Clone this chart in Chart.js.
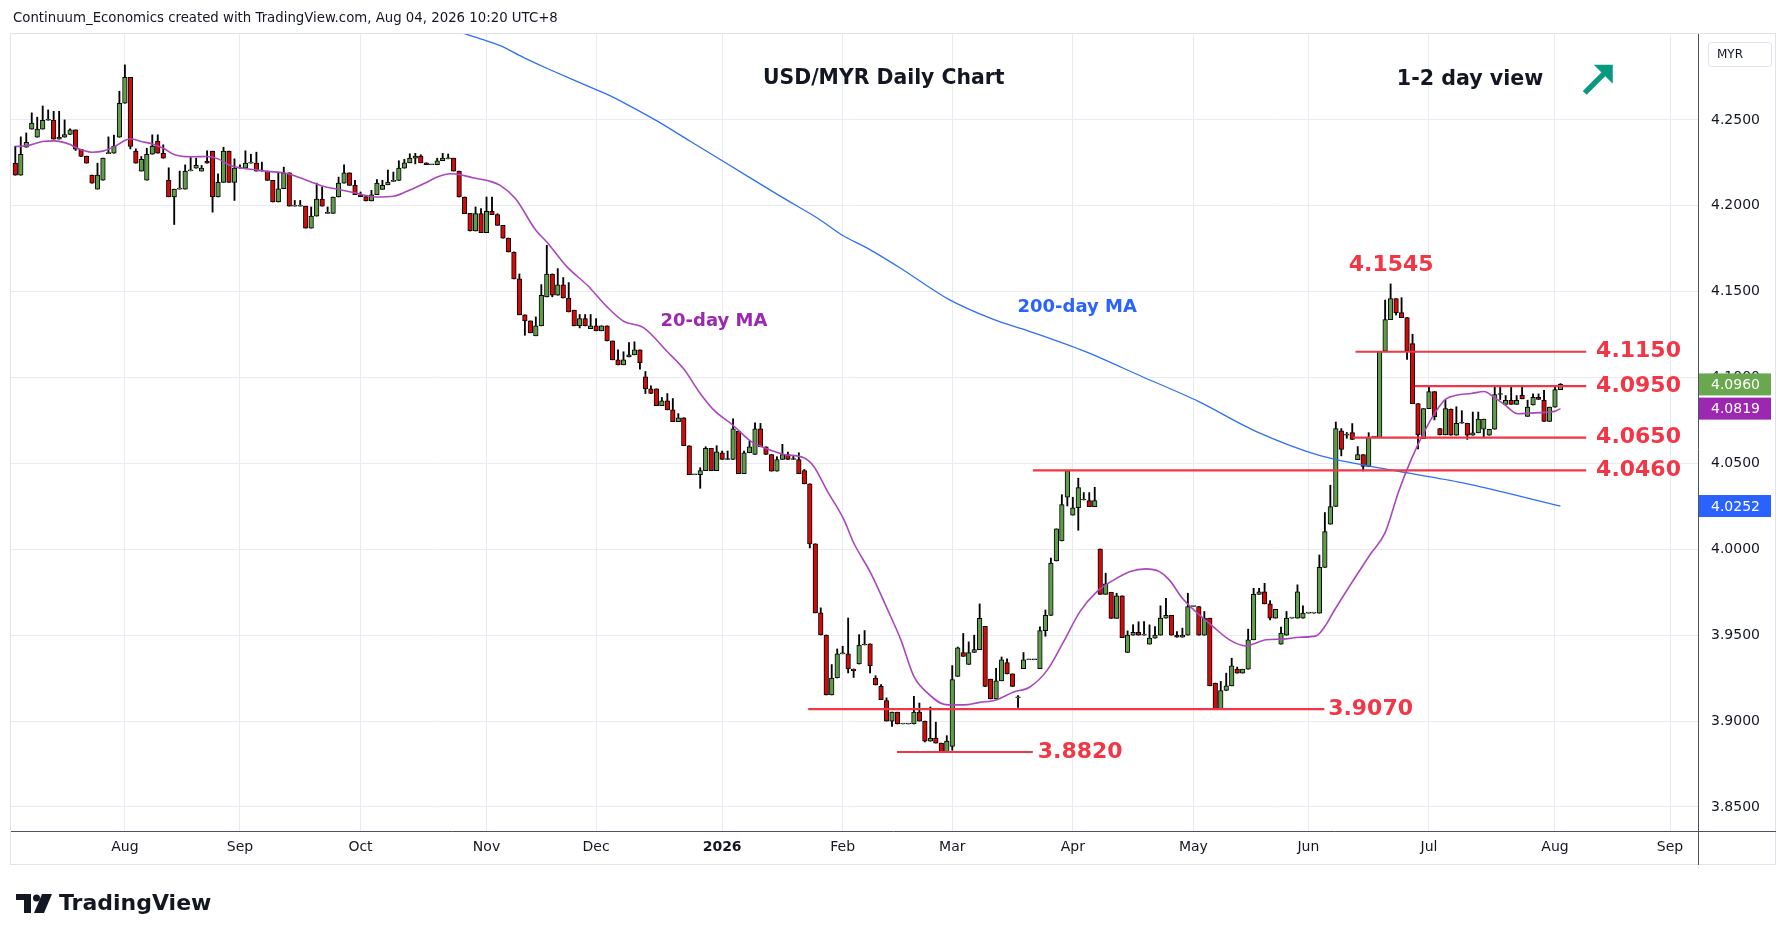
<!DOCTYPE html>
<html>
<head>
<meta charset="utf-8">
<title>USD/MYR Daily Chart</title>
<script src="https://cdn.jsdelivr.net/npm/chart.js@4.4.1/dist/chart.umd.min.js"></script>
<style>
    html, body { margin: 0; padding: 0; background: #ffffff; }
    #wrap { position: relative; width: 1789px; height: 941px; }
</style>
</head>
<body>
<div id="wrap"><canvas id="usdmyr" width="1789" height="941"></canvas></div>
<script>
"use strict";

/* daily bars, one per weekday from Fri 4 Jul 2025 to Tue 4 Aug 2026 */
var opens = [
    4.2248, 4.2178, 4.2341, 4.2446, 4.2399, 4.2446, 4.2498, 4.2498, 4.2388, 4.2399,
    4.2415, 4.2442, 4.2329, 4.2289, 4.2178, 4.2097, 4.2149, 4.2304, 4.2306, 4.2399,
    4.2597, 4.2748, 4.2318, 4.2202, 4.2149, 4.2300, 4.2376, 4.2306, 4.2149, 4.2052,
    4.2097, 4.2097, 4.2203, 4.2219, 4.2202, 4.2260, 4.2318, 4.2052, 4.2136, 4.2318,
    4.2136, 4.2219, 4.2219, 4.2248, 4.2248, 4.2202, 4.2202, 4.2148, 4.2022, 4.2099,
    4.2192, 4.1998, 4.1998, 4.1998, 4.1870, 4.1940, 4.2039, 4.1956, 4.1956, 4.2051,
    4.2132, 4.2192, 4.2119, 4.2064, 4.2053, 4.2028, 4.2064, 4.2095, 4.2122, 4.2142,
    4.2148, 4.2219, 4.2250, 4.2277, 4.2289, 4.2250, 4.2239, 4.2239, 4.2262, 4.2273,
    4.2277, 4.2202, 4.2051, 4.1956, 4.1853, 4.1954, 4.1843, 4.1967, 4.1948, 4.1886,
    4.1812, 4.1731, 4.1574, 4.1365, 4.1330, 4.1243, 4.1301, 4.1469, 4.1603, 4.1479,
    4.1539, 4.1463, 4.1392, 4.1301, 4.1343, 4.1285, 4.1301, 4.1272, 4.1301, 4.1213,
    4.1103, 4.1074, 4.1120, 4.1132, 4.1161, 4.1004, 4.0934, 4.0934, 4.0836, 4.0865,
    4.0812, 4.0743, 4.0766, 4.0603, 4.0434, 4.0434, 4.0458, 4.0588, 4.0458, 4.0562,
    4.0523, 4.0523, 4.0688, 4.0440, 4.0562, 4.0552, 4.0702, 4.0597, 4.0552, 4.0455,
    4.0523, 4.0552, 4.0523, 4.0523, 4.0459, 4.0381, 4.0032, 3.9630, 3.9501, 3.9152,
    3.9251, 3.9391, 3.9391, 3.9303, 3.9332, 3.9443, 3.9449, 3.9251, 3.9202, 3.9120,
    3.9000, 3.9052, 3.8983, 3.8983, 3.8983, 3.9052, 3.9000, 3.8883, 3.8901, 3.8872,
    3.8819, 3.8852, 3.9260, 3.9399, 3.9330, 3.9399, 3.9416, 3.9551, 3.9244, 3.9129,
    3.9234, 3.9340, 3.9275, 3.9135, 3.9305, 3.9357, 3.9357, 3.9305, 3.9527, 3.9615,
    3.9932, 4.0049, 4.0303, 4.0199, 4.0242, 4.0287, 4.0283, 4.0248, 4.0002, 3.9738,
    3.9750, 3.9598, 3.9729, 3.9399, 3.9500, 3.9516, 3.9500, 3.9448, 3.9483, 3.9500,
    3.9599, 3.9616, 3.9500, 3.9488, 3.9500, 3.9667, 3.9667, 3.9500, 3.9599, 3.9221,
    3.9072, 3.9178, 3.9205, 3.9302, 3.9279, 3.9302, 3.9473, 3.9738, 3.9752, 3.9682,
    3.9599, 3.9448, 3.9500, 3.9599, 3.9599, 3.9599, 3.9628, 3.9628, 3.9628, 3.9895,
    4.0146, 4.0249, 4.0689, 4.0664, 4.0679, 4.0522, 4.0551, 4.0482, 4.0654, 4.0650,
    4.1153, 4.1337, 4.1459, 4.1378, 4.1349, 4.1197, 4.0848, 4.0644, 4.0819, 4.0918,
    4.0703, 4.0666, 4.0817, 4.0664, 4.0734, 4.0734, 4.0664, 4.0678, 4.0699, 4.0664,
    4.0699, 4.0901, 4.0844, 4.0868, 4.0844, 4.0897, 4.0774, 4.0840, 4.0885, 4.0868,
    4.0744, 4.0828, 4.0930
];
var highs = [
    4.2347, 4.2401, 4.2424, 4.2541, 4.2516, 4.2581, 4.2558, 4.2550, 4.2550, 4.2500,
    4.2448, 4.2442, 4.2329, 4.2289, 4.2178, 4.2248, 4.2277, 4.2401, 4.2411, 4.2667,
    4.2820, 4.2748, 4.2331, 4.2287, 4.2335, 4.2413, 4.2413, 4.2355, 4.2221, 4.2097,
    4.2202, 4.2238, 4.2281, 4.2277, 4.2235, 4.2320, 4.2318, 4.2186, 4.2341, 4.2318,
    4.2273, 4.2238, 4.2320, 4.2300, 4.2312, 4.2254, 4.2202, 4.2148, 4.2196, 4.2225,
    4.2192, 4.2031, 4.2031, 4.1998, 4.1993, 4.2132, 4.2109, 4.1993, 4.2051, 4.2167,
    4.2239, 4.2192, 4.2148, 4.2080, 4.2053, 4.2090, 4.2153, 4.2148, 4.2208, 4.2196,
    4.2262, 4.2270, 4.2303, 4.2305, 4.2297, 4.2250, 4.2239, 4.2277, 4.2305, 4.2301,
    4.2277, 4.2202, 4.2051, 4.1956, 4.1993, 4.1983, 4.2051, 4.2051, 4.1954, 4.1886,
    4.1812, 4.1731, 4.1603, 4.1365, 4.1330, 4.1353, 4.1541, 4.1770, 4.1603, 4.1634,
    4.1582, 4.1553, 4.1392, 4.1367, 4.1367, 4.1367, 4.1343, 4.1301, 4.1301, 4.1213,
    4.1161, 4.1150, 4.1204, 4.1208, 4.1161, 4.1035, 4.0952, 4.0934, 4.0884, 4.0907,
    4.0878, 4.0790, 4.0766, 4.0603, 4.0434, 4.0475, 4.0597, 4.0588, 4.0603, 4.0572,
    4.0572, 4.0760, 4.0688, 4.0572, 4.0630, 4.0737, 4.0733, 4.0597, 4.0552, 4.0539,
    4.0611, 4.0566, 4.0543, 4.0562, 4.0465, 4.0381, 4.0032, 3.9659, 3.9501, 3.9329,
    3.9420, 3.9435, 3.9600, 3.9303, 3.9503, 3.9527, 3.9449, 3.9264, 3.9212, 3.9135,
    3.9052, 3.9052, 3.8983, 3.8983, 3.9144, 3.9105, 3.9000, 3.9082, 3.8994, 3.8872,
    3.8915, 3.9323, 3.9431, 3.9510, 3.9461, 3.9500, 3.9682, 3.9551, 3.9244, 3.9307,
    3.9373, 3.9363, 3.9275, 3.9149, 3.9399, 3.9357, 3.9357, 3.9549, 3.9647, 3.9949,
    4.0119, 4.0318, 4.0459, 4.0303, 4.0414, 4.0330, 4.0330, 4.0361, 4.0002, 3.9861,
    3.9750, 3.9744, 3.9729, 3.9525, 3.9561, 3.9578, 3.9579, 3.9560, 3.9550, 3.9671,
    3.9715, 3.9616, 3.9521, 3.9541, 3.9744, 3.9667, 3.9667, 3.9638, 3.9599, 3.9221,
    3.9231, 3.9279, 3.9366, 3.9314, 3.9302, 3.9535, 3.9773, 3.9773, 3.9802, 3.9702,
    3.9651, 3.9547, 3.9638, 3.9599, 3.9793, 3.9671, 3.9628, 3.9628, 3.9967, 4.0214,
    4.0373, 4.0741, 4.0703, 4.0680, 4.0732, 4.0598, 4.0551, 4.0679, 4.0654, 4.1153,
    4.1451, 4.1545, 4.1459, 4.1465, 4.1349, 4.1252, 4.0848, 4.0819, 4.0947, 4.0918,
    4.0703, 4.0870, 4.0817, 4.0830, 4.0807, 4.0734, 4.0799, 4.0799, 4.0758, 4.0699,
    4.0950, 4.0950, 4.0895, 4.0950, 4.0895, 4.0950, 4.0868, 4.0905, 4.0905, 4.0925,
    4.0828, 4.0950, 4.0965
];
var lows = [
    4.2178, 4.2178, 4.2341, 4.2446, 4.2399, 4.2446, 4.2498, 4.2388, 4.2388, 4.2399,
    4.2415, 4.2322, 4.2287, 4.2248, 4.2132, 4.2097, 4.2149, 4.2304, 4.2306, 4.2399,
    4.2597, 4.2331, 4.2248, 4.2202, 4.2149, 4.2300, 4.2306, 4.2277, 4.2052, 4.1891,
    4.2097, 4.2097, 4.2203, 4.2219, 4.2202, 4.2248, 4.1963, 4.2052, 4.2136, 4.2136,
    4.2031, 4.2219, 4.2219, 4.2248, 4.2202, 4.2202, 4.2148, 4.2022, 4.2022, 4.2099,
    4.1998, 4.1998, 4.1998, 4.1870, 4.1870, 4.1940, 4.1998, 4.1956, 4.1956, 4.2051,
    4.2132, 4.2119, 4.2064, 4.2053, 4.2028, 4.2028, 4.2064, 4.2095, 4.2122, 4.2142,
    4.2148, 4.2219, 4.2250, 4.2244, 4.2250, 4.2239, 4.2239, 4.2239, 4.2262, 4.2273,
    4.2202, 4.2051, 4.1954, 4.1853, 4.1853, 4.1843, 4.1843, 4.1948, 4.1886, 4.1812,
    4.1731, 4.1574, 4.1365, 4.1246, 4.1260, 4.1243, 4.1301, 4.1469, 4.1470, 4.1479,
    4.1463, 4.1382, 4.1301, 4.1289, 4.1301, 4.1285, 4.1272, 4.1272, 4.1213, 4.1103,
    4.1074, 4.1074, 4.1120, 4.1132, 4.1049, 4.0907, 4.0907, 4.0836, 4.0836, 4.0812,
    4.0743, 4.0743, 4.0603, 4.0434, 4.0434, 4.0355, 4.0458, 4.0458, 4.0458, 4.0523,
    4.0523, 4.0523, 4.0440, 4.0440, 4.0562, 4.0552, 4.0597, 4.0552, 4.0455, 4.0455,
    4.0523, 4.0523, 4.0523, 4.0440, 4.0381, 4.0008, 3.9630, 3.9501, 3.9152, 3.9152,
    3.9251, 3.9391, 3.9280, 3.9254, 3.9332, 3.9443, 3.9280, 3.9210, 3.9124, 3.9000,
    3.8969, 3.8983, 3.8983, 3.8983, 3.8983, 3.9000, 3.8878, 3.8883, 3.8872, 3.8819,
    3.8819, 3.8830, 3.9260, 3.9377, 3.9330, 3.9399, 3.9416, 3.9201, 3.9129, 3.9129,
    3.9234, 3.9275, 3.9201, 3.9080, 3.9305, 3.9357, 3.9357, 3.9305, 3.9494, 3.9615,
    3.9932, 4.0049, 4.0252, 4.0199, 4.0111, 4.0287, 4.0248, 4.0248, 3.9738, 3.9738,
    3.9598, 3.9598, 3.9486, 3.9399, 3.9500, 3.9500, 3.9500, 3.9448, 3.9483, 3.9500,
    3.9599, 3.9500, 3.9488, 3.9488, 3.9500, 3.9667, 3.9500, 3.9500, 3.9205, 3.9072,
    3.9072, 3.9178, 3.9205, 3.9279, 3.9279, 3.9302, 3.9473, 3.9738, 3.9682, 3.9589,
    3.9599, 3.9448, 3.9500, 3.9599, 3.9599, 3.9599, 3.9628, 3.9628, 3.9628, 3.9895,
    4.0146, 4.0249, 4.0544, 4.0646, 4.0639, 4.0522, 4.0456, 4.0482, 4.0654, 4.0650,
    4.1153, 4.1337, 4.1364, 4.1349, 4.1106, 4.0848, 4.0584, 4.0644, 4.0819, 4.0753,
    4.0666, 4.0666, 4.0664, 4.0664, 4.0734, 4.0640, 4.0664, 4.0678, 4.0650, 4.0664,
    4.0699, 4.0872, 4.0844, 4.0844, 4.0844, 4.0876, 4.0774, 4.0840, 4.0872, 4.0744,
    4.0744, 4.0828, 4.0930
];
var closes = [
    4.2178, 4.2300, 4.2370, 4.2481, 4.2446, 4.2498, 4.2498, 4.2388, 4.2399, 4.2415,
    4.2442, 4.2329, 4.2287, 4.2248, 4.2132, 4.2178, 4.2277, 4.2304, 4.2347, 4.2597,
    4.2748, 4.2345, 4.2248, 4.2271, 4.2300, 4.2347, 4.2306, 4.2277, 4.2052, 4.2097,
    4.2097, 4.2202, 4.2203, 4.2235, 4.2219, 4.2248, 4.2052, 4.2136, 4.2318, 4.2136,
    4.2219, 4.2219, 4.2248, 4.2248, 4.2202, 4.2202, 4.2148, 4.2022, 4.2099, 4.2192,
    4.1998, 4.1998, 4.1998, 4.1870, 4.1940, 4.2039, 4.1998, 4.1956, 4.2051, 4.2132,
    4.2192, 4.2119, 4.2064, 4.2053, 4.2028, 4.2064, 4.2132, 4.2119, 4.2138, 4.2142,
    4.2219, 4.2250, 4.2277, 4.2289, 4.2250, 4.2239, 4.2239, 4.2262, 4.2277, 4.2273,
    4.2202, 4.2051, 4.1954, 4.1853, 4.1954, 4.1843, 4.1967, 4.1948, 4.1886, 4.1812,
    4.1731, 4.1574, 4.1365, 4.1330, 4.1260, 4.1301, 4.1479, 4.1603, 4.1479, 4.1539,
    4.1463, 4.1382, 4.1301, 4.1343, 4.1301, 4.1301, 4.1272, 4.1301, 4.1213, 4.1103,
    4.1074, 4.1103, 4.1132, 4.1161, 4.1086, 4.0934, 4.0907, 4.0836, 4.0865, 4.0812,
    4.0743, 4.0766, 4.0603, 4.0434, 4.0434, 4.0458, 4.0588, 4.0458, 4.0568, 4.0523,
    4.0523, 4.0702, 4.0440, 4.0562, 4.0597, 4.0702, 4.0597, 4.0552, 4.0455, 4.0523,
    4.0552, 4.0523, 4.0523, 4.0440, 4.0381, 4.0032, 3.9630, 3.9501, 3.9152, 3.9251,
    3.9391, 3.9391, 3.9303, 3.9293, 3.9443, 3.9443, 3.9323, 3.9210, 3.9124, 3.9000,
    3.9052, 3.8983, 3.8983, 3.8983, 3.9052, 3.9000, 3.8883, 3.8901, 3.8872, 3.8819,
    3.8883, 3.9241, 3.9426, 3.9377, 3.9399, 3.9416, 3.9598, 3.9201, 3.9129, 3.9234,
    3.9357, 3.9275, 3.9201, 3.9135, 3.9357, 3.9357, 3.9357, 3.9527, 3.9615, 3.9920,
    4.0119, 4.0260, 4.0459, 4.0242, 4.0359, 4.0287, 4.0248, 4.0283, 3.9738, 3.9799,
    3.9598, 3.9729, 3.9486, 3.9500, 3.9516, 3.9500, 3.9500, 3.9483, 3.9500, 3.9599,
    3.9616, 3.9500, 3.9488, 3.9500, 3.9667, 3.9667, 3.9500, 3.9599, 3.9205, 3.9072,
    3.9178, 3.9205, 3.9322, 3.9279, 3.9302, 3.9473, 3.9738, 3.9752, 3.9682, 3.9599,
    3.9651, 3.9512, 3.9599, 3.9599, 3.9752, 3.9628, 3.9628, 3.9628, 3.9895, 4.0103,
    4.0249, 4.0703, 4.0582, 4.0664, 4.0639, 4.0551, 4.0482, 4.0650, 4.0654, 4.1153,
    4.1337, 4.1459, 4.1378, 4.1349, 4.1153, 4.0848, 4.0666, 4.0819, 4.0918, 4.0771,
    4.0666, 4.0819, 4.0664, 4.0734, 4.0734, 4.0664, 4.0678, 4.0758, 4.0758, 4.0699,
    4.0901, 4.0901, 4.0868, 4.0844, 4.0868, 4.0876, 4.0828, 4.0885, 4.0872, 4.0744,
    4.0828, 4.0930, 4.0960
];

/* moving averages: [bar index, value] */
var ma20 = [
    [0, 4.2345], [2, 4.2349], [5, 4.2374], [7, 4.2378], [10, 4.2357], [11, 4.2339],
    [14, 4.2312], [16, 4.2318], [18, 4.2343], [20, 4.2380], [21, 4.2390], [23, 4.2374],
    [25, 4.2360], [27, 4.2335], [29, 4.2298], [32, 4.2285], [35, 4.2287], [37, 4.2273],
    [39, 4.2238], [41, 4.2221], [44, 4.2209], [46, 4.2200], [49, 4.2192], [52, 4.2163],
    [54, 4.2138], [56, 4.2115], [59, 4.2095], [62, 4.2076], [64, 4.2060], [66, 4.2051],
    [69, 4.2055], [71.5, 4.2084], [74.5, 4.2128], [77.5, 4.2173], [79.5, 4.2186],
    [81, 4.2182], [83.5, 4.2163], [86.5, 4.2144], [88.5, 4.2119], [91.3, 4.2041],
    [95, 4.1857], [97, 4.1789], [100.7, 4.1644], [104.4, 4.1537], [108, 4.1411],
    [111, 4.1328], [114.7, 4.1289], [119, 4.1150], [122, 4.1049], [125, 4.0907],
    [127.5, 4.0810], [131, 4.0722], [134.2, 4.0630], [137.2, 4.0585], [140.3, 4.0552],
    [143.9, 4.0533], [145.7, 4.0484], [148.2, 4.0339], [151.2, 4.0174], [153, 4.0038],
    [156.1, 3.9863], [159.2, 3.9649], [161.6, 3.9474], [164, 3.9260], [166.5, 3.9163],
    [169.8, 3.9096], [172.9, 3.9094], [176, 3.9109], [179, 3.9123], [182.1, 3.9168],
    [185.1, 3.9197], [188.3, 3.9295], [191.3, 3.9461], [194.3, 3.9637], [197.4, 3.9754],
    [200.5, 3.9822], [203.5, 3.9871], [206.3, 3.9886], [208.8, 3.9870], [210.6, 3.9822],
    [213, 3.9715], [216.1, 3.9618], [218.6, 3.9550], [221.6, 3.9473], [224.6, 3.9438],
    [228.3, 3.9473], [231.3, 3.9477], [234.4, 3.9488], [237.4, 3.9496], [239.2, 3.9560],
    [240.5, 3.9632], [247.3, 3.9971], [250, 4.0097], [252.5, 4.0340], [254.9, 4.0534],
    [257.4, 4.0700], [259.2, 4.0800], [261, 4.0873], [263, 4.0897], [265.7, 4.0907],
    [268.1, 4.0919], [269.6, 4.0891], [271.8, 4.0842], [274.2, 4.0789], [276.6, 4.0793],
    [279.1, 4.0797], [280.9, 4.0803], [282, 4.0819]
];
var ma200 = [
    [81.2, 4.3010], [85.4, 4.2967], [88.5, 4.2932], [92.7, 4.2864], [97.6, 4.2792],
    [106.1, 4.2675], [109.8, 4.2621], [117.1, 4.2494], [123.1, 4.2377], [129.1, 4.2261],
    [139.6, 4.2056], [146.3, 4.1930], [151, 4.1827], [155.4, 4.1755], [161.5, 4.1638],
    [170.2, 4.1458], [178.5, 4.1338], [184.8, 4.1272], [195.2, 4.1152], [205.6, 4.1006],
    [216, 4.0860], [226.4, 4.0687], [238.3, 4.0544], [251, 4.0462], [264, 4.0388],
    [282, 4.0252]
];

/* support / resistance levels drawn on the chart */
var levels = [4.1150, 4.0950, 4.0650, 4.0460, 3.9070, 3.8820];
var levelFrom = [244.6, 255.4, 244.2, 185.7, 144.7, 160.9];
var levelTo = [286.7, 286.7, 286.7, 286.7, 238.9, 185.7];
var levelLabelAt = [288.5, 288.5, 288.5, 288.5, 239.6, 186.6];

/* axis ticks */
var priceTicks = [3.85, 3.90, 3.95, 4.00, 4.05, 4.10, 4.15, 4.20, 4.25];
var monthLabels = ['Jan', 'Feb', 'Mar', 'Apr', 'May', 'Jun', 'Jul', 'Aug', 'Sep', 'Oct', 'Nov', 'Dec'];

var upColor = '#5f9d4b';
var downColor = '#d10a0a';
var levelColor = '#f23645';
var ma20Color = '#ab47bc';
var ma200Color = '#2f6ff5';
var gridColor = '#e7ecf3';
var textColor = '#131722';

/* weekday calendar for the time axis */
var days = [];
for (var t = Date.UTC(2025, 6, 4); days.length < 312; t += 86400000) {
    var wd = new Date(t).getUTCDay();
    if (wd !== 0 && wd !== 6) days.push(new Date(t));
}
var monthTicks = [];
for (var i = 1; i < days.length; i++) {
    if (days[i].getUTCMonth() !== days[i - 1].getUTCMonth()) {
        var m = days[i].getUTCMonth();
        monthTicks.push({ value: i, label: m === 0 ? String(days[i].getUTCFullYear()) : monthLabels[m] });
    }
}
function monthLabel(v) {
    for (var k = 0; k < monthTicks.length; k++) {
        if (monthTicks[k].value === v) return monthTicks[k].label;
    }
    return '';
}

var bodies = [], wicks = [], bodyColors = [];
for (var n = 0; n < closes.length; n++) {
    bodies.push({ x: n, y: [opens[n], closes[n]] });
    wicks.push({ x: n, y: [lows[n], highs[n]] });
    bodyColors.push(closes[n] >= opens[n] ? upColor : downColor);
}
function pairs(list) {
    return list.map(function (p) { return { x: p[0], y: p[1] }; });
}

var datasets = [
    {
        type: 'bar', data: wicks, backgroundColor: '#000000', borderWidth: 0,
        barThickness: 1.2, grouped: false, order: 5
    },
    {
        type: 'bar', data: bodies, backgroundColor: bodyColors, borderColor: '#000000',
        borderWidth: 1, borderSkipped: false, barThickness: 4.6, minBarLength: 1,
        grouped: false, order: 4
    },
    {
        type: 'line', data: pairs(ma200), borderColor: ma200Color, borderWidth: 1.3,
        pointRadius: 0, tension: 0.3, order: 3
    },
    {
        type: 'line', data: pairs(ma20), borderColor: ma20Color, borderWidth: 1.6,
        pointRadius: 0, cubicInterpolationMode: 'monotone', order: 2
    }
];
levels.forEach(function (lv, k) {
    datasets.push({
        type: 'line', data: [{ x: levelFrom[k], y: lv }, { x: levelTo[k], y: lv }],
        borderColor: levelColor, borderWidth: 2.2, pointRadius: 0, order: 1
    });
});

var notes = [
    { text: 'USD/MYR Daily Chart', x: 158.5, y: 4.2739, color: textColor, font: 'bold 20.4px "DejaVu Sans"', align: 'center' },
    { text: '1-2 day view', x: 265.5, y: 4.2733, color: textColor, font: 'bold 20.6px "DejaVu Sans"', align: 'center' },
    { text: '4.1545', x: 251.1, y: 4.1656, color: levelColor, font: 'bold 22px "DejaVu Sans"', align: 'center' },
    { text: '20-day MA', x: 127.5, y: 4.1330, color: '#9c27b0', font: 'bold 18px "DejaVu Sans"', align: 'center' },
    { text: '200-day MA', x: 193.8, y: 4.1406, color: '#2962ff', font: 'bold 18px "DejaVu Sans"', align: 'center' }
];

var decorations = {
    id: 'decorations',
    afterDraw: function (chart) {
        var c = chart.ctx, xs = chart.scales.x, ys = chart.scales.y, a = chart.chartArea;
        c.save();

        /* outer frame and axis lines */
        c.strokeStyle = '#e0e3eb';
        c.lineWidth = 1;
        c.strokeRect(a.left - 0.5, a.top - 0.5, 1776 - a.left, 865 - a.top);
        c.strokeStyle = '#50535e';
        c.beginPath();
        c.moveTo(a.left, a.bottom + 0.5); c.lineTo(1776, a.bottom + 0.5);
        c.moveTo(a.right + 0.5, a.top); c.lineTo(a.right + 0.5, 865);
        c.stroke();

        /* annotations */
        c.textBaseline = 'middle';
        notes.forEach(function (nt) {
            c.font = nt.font;
            c.fillStyle = nt.color;
            c.textAlign = nt.align;
            c.fillText(nt.text, xs.getPixelForValue(nt.x), ys.getPixelForValue(nt.y));
        });
        c.font = 'bold 22px "DejaVu Sans"';
        c.fillStyle = levelColor;
        c.textAlign = 'left';
        levels.forEach(function (lv, k) {
            c.fillText(lv.toFixed(4), xs.getPixelForValue(levelLabelAt[k]), ys.getPixelForValue(lv));
        });

        /* view arrow */
        var ax = xs.getPixelForValue(288.8), ay = ys.getPixelForValue(4.2733);
        c.strokeStyle = '#089981';
        c.fillStyle = '#089981';
        c.lineWidth = 5.5;
        c.beginPath();
        c.moveTo(ax - 13, ay + 13); c.lineTo(ax + 7, ay - 7);
        c.stroke();
        c.beginPath();
        c.moveTo(ax + 15, ay - 15); c.lineTo(ax - 4, ay - 15); c.lineTo(ax + 15, ay + 4);
        c.closePath();
        c.fill();

        /* last value boxes on the price axis */
        var boxes = [
            { v: closes[closes.length - 1], bg: '#69a84f' },
            { v: ma20[ma20.length - 1][1], bg: '#9c27b0' },
            { v: ma200[ma200.length - 1][1], bg: '#2962ff' }
        ];
        c.font = '14px "DejaVu Sans"';
        boxes.forEach(function (b) {
            var by = ys.getPixelForValue(b.v);
            c.fillStyle = b.bg;
            c.fillRect(a.right + 1, by - 11, 72, 22);
            c.fillStyle = '#ffffff';
            c.textAlign = 'left';
            c.fillText(b.v.toFixed(4), a.right + 13, by + 1);
        });

        /* currency tag */
        c.strokeStyle = '#e0e3eb';
        c.lineWidth = 1;
        c.beginPath();
        c.roundRect(1708.5, 42.5, 63, 24, 3);
        c.stroke();
        c.fillStyle = textColor;
        c.font = '12px "DejaVu Sans"';
        c.textAlign = 'left';
        c.fillText('MYR', 1717, 55);

        /* header and footer */
        c.font = '13.3px "DejaVu Sans"';
        c.fillText('Continuum_Economics created with TradingView.com, Aug 04, 2026 10:20 UTC+8', 13, 19);
        c.fillStyle = textColor;
        c.fillRect(16, 894, 15, 6);
        c.fillRect(24, 894, 7, 19);
        c.beginPath();
        c.arc(36.5, 898, 3.5, 0, Math.PI * 2);
        c.fill();
        c.beginPath();
        c.moveTo(42, 894); c.lineTo(52, 894); c.lineTo(44, 913); c.lineTo(34, 913);
        c.closePath();
        c.fill();
        c.font = 'bold 22px "DejaVu Sans"';
        c.fillText('TradingView', 59, 904);
        c.restore();
    }
};

var chart = new Chart(document.getElementById('usdmyr'), {
    type: 'bar',
    data: { datasets: datasets },
    options: {
        responsive: false,
        animation: false,
        events: [],
        layout: { padding: { left: 11, top: 34, right: 13, bottom: 76 } },
        plugins: { legend: { display: false }, tooltip: { enabled: false } },
        scales: {
            x: {
                type: 'linear',
                min: -0.785,
                max: 307.1,
                offset: false,
                grid: { color: gridColor, drawTicks: false, offset: false },
                border: { display: false },
                afterBuildTicks: function (s) {
                    s.ticks = monthTicks.map(function (mt) { return { value: mt.value }; });
                },
                afterFit: function (s) { s.height = 34; },
                ticks: {
                    autoSkip: false,
                    maxRotation: 0,
                    padding: 8,
                    color: textColor,
                    font: function (ctx) {
                        return { family: 'DejaVu Sans', size: 14, weight: ctx.tick && ctx.tick.label === '2026' ? 'bold' : 'normal' };
                    },
                    callback: function (v) { return monthLabel(v); }
                }
            },
            y: {
                position: 'right',
                min: 3.836,
                max: 4.300,
                grid: { color: gridColor, drawTicks: false },
                border: { display: false },
                afterBuildTicks: function (s) {
                    s.ticks = priceTicks.map(function (v) { return { value: v }; });
                },
                afterFit: function (s) { s.width = 78; },
                ticks: {
                    padding: 13,
                    color: textColor,
                    font: { family: 'DejaVu Sans', size: 14 },
                    callback: function (v) { return Number(v).toFixed(4); }
                }
            }
        }
    },
    plugins: [decorations]
});
</script>
</body>
</html>
